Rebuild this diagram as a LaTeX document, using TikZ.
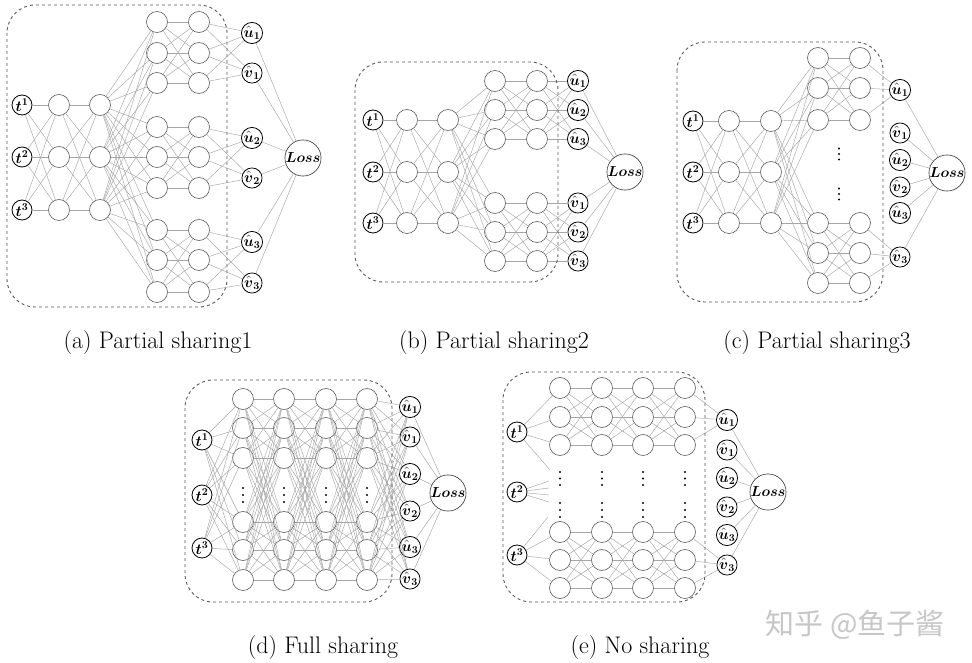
\RequirePackage{fix-cm}
\documentclass[tikz,border=0pt]{standalone}
\usepackage{amsmath}
\usepackage{fontspec}
\newfontfamily\cjkfont{Noto Sans CJK SC}
\newcommand{\myT}[1]{$\boldsymbol{t}^{\boldsymbol{#1}}$}
\newcommand{\myU}[1]{$\hat{\boldsymbol{u}}_{\boldsymbol{#1}}$}
\newcommand{\myV}[1]{$\hat{\boldsymbol{v}}_{\boldsymbol{#1}}$}
\newcommand{\myLoss}{$\boldsymbol{Loss}$}
\tikzset{
 neuron/.style={circle,draw=black!70,line width=0.55pt,minimum size=21pt,inner sep=0pt},
 io/.style={circle,draw=black,line width=0.8pt,minimum size=20pt,inner sep=0pt,font=\fontsize{15}{15}\selectfont},
 lossnode/.style={circle,draw=black!80,line width=0.6pt,minimum size=30pt,inner sep=0pt,font=\fontsize{14.5}{14.5}\selectfont},
 conn/.style={draw=black!35,line width=0.45pt},
 sharebox/.style={draw=black!65,dashed,line width=0.9pt,rounded corners=28pt},
 captext/.style={font=\fontsize{24}{28}\selectfont},
 vdot/.style={circle,fill=black,inner sep=0pt,minimum size=2.4pt},
}
\begin{document}
\begin{tikzpicture}[x=1pt,y=-1pt]
\useasboundingbox (0,0) rectangle (972,663);
\fill[white] (0,0) rectangle (972,663);

% ================= (a) =================
\foreach \i/\y in {1/105,2/157,3/210}{
  \node[io] (a-t\i) at (22,\y) {\myT{\i}};
  \node[neuron] (a-h\i) at (59,\y) {};
  \node[neuron] (a-k\i) at (100,\y) {};
}
\foreach \g/\ya/\yb/\yc in {1/22/53/83, 2/127/157/188, 3/230/260/292}{
  \foreach \i/\y in {1/\ya,2/\yb,3/\yc}{
    \node[neuron] (a-p\g\i) at (157,\y) {};
    \node[neuron] (a-q\g\i) at (199,\y) {};
  }
}
\foreach \g/\yu/\yv in {1/33/73, 2/138/178, 3/242/283}{
  \node[io] (a-u\g) at (252,\yu) {\myU{\g}};
  \node[io] (a-v\g) at (252,\yv) {\myV{\g}};
}
\node[lossnode] (a-loss) at (303,158) {\myLoss};
\foreach \i in {1,2,3}{\foreach \j in {1,2,3}{
  \draw[conn] (a-t\i) -- (a-h\j);
  \draw[conn] (a-h\i) -- (a-k\j);
  \foreach \g in {1,2,3}{
    \draw[conn] (a-k\i) -- (a-p\g\j);
    \draw[conn] (a-p\g\i) -- (a-q\g\j);
  }
}}
\foreach \g in {1,2,3}{
  \foreach \i in {1,2,3}{
    \draw[conn] (a-q\g\i) -- (a-u\g);
    \draw[conn] (a-q\g\i) -- (a-v\g);
  }
  \draw[conn] (a-u\g) -- (a-loss);
  \draw[conn] (a-v\g) -- (a-loss);
}
\draw[sharebox] (7,5) rectangle (227,307);
\node[captext] (a-cap) at (158,343) {(a) Partial sharing1};

% ================= (b) =================
\foreach \i/\y in {1/120,2/172,3/223}{
  \node[io] (b-t\i) at (373,\y) {\myT{\i}};
  \node[neuron] (b-h\i) at (407,\y) {};
  \node[neuron] (b-k\i) at (448,\y) {};
}
\foreach \g/\ya/\yb/\yc in {1/81/110/139, 2/203/232/261}{
  \foreach \i/\y in {1/\ya,2/\yb,3/\yc}{
    \node[neuron] (b-p\g\i) at (495,\y) {};
    \node[neuron] (b-q\g\i) at (537,\y) {};
  }
}
\foreach \i/\y in {1/81,2/110,3/139}{
  \node[io] (b-o1\i) at (578,\y) {\myU{\i}};
}
\foreach \i/\y in {1/203,2/232,3/261}{
  \node[io] (b-o2\i) at (578,\y) {\myV{\i}};
}
\node[lossnode] (b-loss) at (625,172) {\myLoss};
\foreach \i in {1,2,3}{\foreach \j in {1,2,3}{
  \draw[conn] (b-t\i) -- (b-h\j);
  \draw[conn] (b-h\i) -- (b-k\j);
  \foreach \g in {1,2}{
    \draw[conn] (b-k\i) -- (b-p\g\j);
    \draw[conn] (b-p\g\i) -- (b-q\g\j);
    \draw[conn] (b-q\g\i) -- (b-o\g\j);
  }
}}
\foreach \g in {1,2}{\foreach \i in {1,2,3}{
  \draw[conn] (b-o\g\i) -- (b-loss);
}}
\draw[sharebox] (355,62) rectangle (558,282);
\node[captext] (b-cap) at (494,343) {(b) Partial sharing2};

% ================= (c) =================
\foreach \i/\y in {1/121,2/172,3/223}{
  \node[io] (c-t\i) at (693,\y) {\myT{\i}};
  \node[neuron] (c-h\i) at (729,\y) {};
  \node[neuron] (c-k\i) at (771,\y) {};
}
\foreach \g/\ya/\yb/\yc in {1/58/88/120, 2/223/253/283}{
  \foreach \i/\y in {1/\ya,2/\yb,3/\yc}{
    \node[neuron] (c-p\g\i) at (818,\y) {};
    \node[neuron] (c-q\g\i) at (860,\y) {};
  }
}
\foreach \n/\y in {1/148.5,2/154,3/159.5,4/188.5,5/194,6/199.5}{
  \node[vdot] (c-d\n) at (839,\y) {};
}
\node[io] (c-u1) at (900,90) {\myU{1}};
\node[io] (c-v1) at (900,133) {\myV{1}};
\node[io] (c-u2) at (900,160) {\myU{2}};
\node[io] (c-v2) at (900,187) {\myV{2}};
\node[io] (c-u3) at (900,213) {\myU{3}};
\node[io] (c-v3) at (900,257) {\myV{3}};
\node[lossnode] (c-loss) at (947,173) {\myLoss};
\foreach \i in {1,2,3}{
  \foreach \j in {1,2,3}{
    \draw[conn] (c-t\i) -- (c-h\j);
    \draw[conn] (c-h\i) -- (c-k\j);
    \foreach \g in {1,2}{
      \draw[conn] (c-k\i) -- (c-p\g\j);
      \draw[conn] (c-p\g\i) -- (c-q\g\j);
    }
  }
  \draw[conn] (c-q1\i) -- (c-u1);
  \draw[conn] (c-q2\i) -- (c-v3);
  \draw[conn] (c-u\i) -- (c-loss);
  \draw[conn] (c-v\i) -- (c-loss);
}
\draw[sharebox] (677,42) rectangle (883,302);
\node[captext] (c-cap) at (817,343) {(c) Partial sharing3};

% ================= (d) =================
\foreach \i/\y in {1/440,2/495,3/548}{
  \node[io] (d-t\i) at (202,\y) {\myT{\i}};
}
\foreach \l/\x in {1/243,2/284,3/326,4/367}{
  \foreach \j/\y in {1/399,2/428,3/458,4/522,5/550,6/580}{
    \node[neuron] (d-n\l\j) at (\x,\y) {};
  }
  \foreach \n/\y in {1/488,2/495,3/502}{
    \node[vdot] (d-d\l\n) at (\x,\y) {};
  }
}
\node[io] (d-o1) at (410,407) {\myU{1}};
\node[io] (d-o2) at (410,437) {\myV{1}};
\node[io] (d-o3) at (410,474) {\myU{2}};
\node[io] (d-o4) at (410,511) {\myV{2}};
\node[io] (d-o5) at (410,547) {\myU{3}};
\node[io] (d-o6) at (410,579) {\myV{3}};
\node[lossnode] (d-loss) at (448,493) {\myLoss};
\foreach \j in {1,...,6}{
  \foreach \i in {1,2,3}{\draw[conn] (d-t\i) -- (d-n1\j);}
  \foreach \i in {1,...,6}{
    \draw[conn] (d-n1\i) -- (d-n2\j);
    \draw[conn] (d-n2\i) -- (d-n3\j);
    \draw[conn] (d-n3\i) -- (d-n4\j);
    \draw[conn] (d-n4\i) -- (d-o\j);
  }
  \draw[conn] (d-o\j) -- (d-loss);
}
\draw[sharebox] (185,380) rectangle (392,602);
\node[captext] (d-cap) at (323,648) {(d) Full sharing};

% ================= (e) =================
\node[io] (e-t1) at (517,432) {\myT{1}};
\node[io] (e-t2) at (517,492) {\myT{2}};
\node[io] (e-t3) at (517,555) {\myT{3}};
\foreach \l/\x in {1/560,2/602,3/643,4/685}{
  \foreach \g/\ya/\yb/\yc in {1/388/417/445, 2/532/560/588}{
    \foreach \i/\y in {1/\ya,2/\yb,3/\yc}{
      \node[neuron] (e-n\l\g\i) at (\x,\y) {};
    }
  }
  \foreach \n/\y in {1/472,2/478.5,3/485,4/503,5/510,6/517}{
    \node[vdot] (e-d\l\n) at (\x,\y) {};
  }
}
\node[io] (e-u1) at (727,420) {\myU{1}};
\node[io] (e-v1) at (727,450) {\myV{1}};
\node[io] (e-u2) at (727,478) {\myU{2}};
\node[io] (e-v2) at (727,507) {\myV{2}};
\node[io] (e-u3) at (727,535) {\myU{3}};
\node[io] (e-v3) at (727,565) {\myV{3}};
\node[lossnode] (e-loss) at (768,492) {\myLoss};
\coordinate (e-f1) at (550,470);
\coordinate (e-f2) at (549,481);
\coordinate (e-f3) at (549,488);
\coordinate (e-f4) at (549,495);
\coordinate (e-f5) at (549,502);
\coordinate (e-f6) at (548,517);
\draw[conn] (e-t1) -- (e-f1);
\foreach \k in {2,3,4,5}{\draw[conn] (e-t2) -- (e-f\k);}
\draw[conn] (e-t3) -- (e-f6);
\foreach \i in {1,2,3}{
  \draw[conn] (e-t1) -- (e-n11\i);
  \draw[conn] (e-t3) -- (e-n12\i);
  \foreach \j in {1,2,3}{
    \foreach \g in {1,2}{
      \draw[conn] (e-n1\g\i) -- (e-n2\g\j);
      \draw[conn] (e-n2\g\i) -- (e-n3\g\j);
      \draw[conn] (e-n3\g\i) -- (e-n4\g\j);
    }
  }
  \draw[conn] (e-n41\i) -- (e-u1);
  \draw[conn] (e-n42\i) -- (e-v3);
  \draw[conn] (e-u\i) -- (e-loss);
  \draw[conn] (e-v\i) -- (e-loss);
}
\draw[sharebox] (503,372) rectangle (705,602);
\node[captext] (e-cap) at (640,648) {(e) No sharing};

% watermark
\node[font=\cjkfont\fontsize{29}{32}\selectfont, text=black!22] (wm) at (855,625) {知乎 @鱼子酱};
\end{tikzpicture}
\end{document}
